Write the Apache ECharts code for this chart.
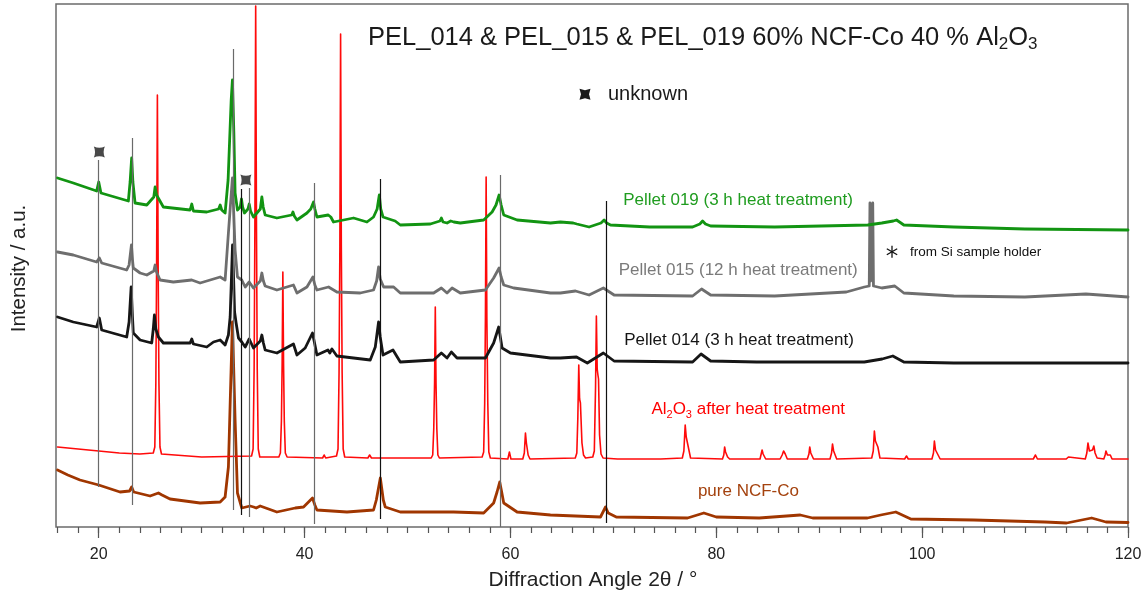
<!DOCTYPE html>
<html>
<head>
<meta charset="utf-8">
<title>XRD PEL_014 / PEL_015 / PEL_019</title>
<script src="https://cdn.jsdelivr.net/npm/echarts@6/dist/echarts.min.js"></script>
<style>
  html, body { margin: 0; padding: 0; background: #ffffff; }
  #chart { width: 1146px; height: 598px; }
</style>
</head>
<body>
<div id="chart"></div>
<script>
// ---- diffraction patterns: [2theta (deg), intensity (a.u., offset stacked)] ----
const pel019 = [
  [16.0,349],[17.53,344],[19.8,336],[20.0,345],[20.22,334],[22.88,326],[23.05,345],[23.2,369],[23.32,345],[23.53,324],
  [24.67,322],[25.35,330],[25.48,340],[25.62,332],[25.8,330],[26.28,320],[28.88,317],[29.04,323],[29.2,316],[30.5,315],
  [31.65,318],[31.8,322],[31.95,317],[32.28,314],[32.57,347],[32.87,427],[32.99,447],[33.13,394],[33.25,334],[33.48,317],
  [33.75,320],[33.87,328],[33.98,320],[34.16,314],[34.5,318],[34.62,323],[34.75,316],[35.03,310],[35.7,318],[35.85,330],
  [35.98,320],[36.17,312],[37.31,309],[38.75,312],[38.87,315],[39.0,311],[39.26,307],[40.23,314],[40.6,318],[40.87,325],
  [41.0,318],[41.2,310],[42.3,312],[42.43,314],[42.55,310],[42.81,305],[43.79,307],[44.76,309],[46.06,305],[46.7,310],
  [47.05,318],[47.26,332],[47.4,318],[47.62,310],[48.5,307],[48.65,309],[48.8,306],[49.3,302],[52.22,303],[53.15,306],
  [53.29,309],[53.45,305],[53.84,304],[54.2,306],[54.33,308],[54.5,305],[55.13,304],[57.4,307],[58.22,315],[58.6,322],
  [58.9,332],[59.1,322],[59.35,312],[60.65,307],[63.89,304],[64.86,305],[66.1,304],[66.25,306],[66.45,303],[67.64,300],
  [68.8,304],[69.1,307],[69.35,304],[69.72,302],[73.52,300],[77.7,300],[78.4,303],[78.67,306],[78.95,303],[79.45,301],
  [85.67,300],[94.72,302],[96.08,304],[97.2,306],[97.51,307],[97.8,305],[98.22,302],[103.08,300],[109.98,298],[120,297]
];

const pel015 = [
  [16.0,275],[17.53,272],[19.8,265],[20.06,269],[20.29,264],[22.72,257],[22.95,262],[23.18,282],[23.3,265],[23.36,259],
  [24.02,254],[24.67,252],[25.35,256],[25.48,262],[25.62,255],[25.96,247],[27.25,245],[29.04,247],[29.85,244],[31.8,250],
  [32.28,247],[32.6,294],[32.99,349],[33.25,277],[33.48,250],[33.9,247],[34.23,240],[34.62,245],[35.03,239],[35.7,246],
  [35.85,254],[36.0,246],[36.17,241],[37.31,237],[38.92,242],[39.26,234],[40.23,240],[40.81,250],[41.0,242],[41.2,237],
  [42.33,240],[43.14,235],[45.41,234],[46.7,237],[47.0,246],[47.19,260],[47.35,248],[47.68,240],[48.65,240],[49.3,234],
  [52.54,234],[53.29,239],[53.84,234],[54.33,239],[55.13,234],[57.57,237],[58.37,249],[58.9,259],[59.1,250],[59.35,242],
  [60.32,239],[63.89,234],[64.86,234],[66.32,236],[67.64,232],[69.03,239],[70.07,232],[77.7,231],[78.57,238],[79.45,232],
  [85.67,231],[92.64,235],[94.38,240],[94.86,241],[94.93,324],[95.0,246],[95.13,246],[95.2,324],[95.27,241],[96.08,239],
  [97.34,241],[98.22,234],[103.08,231],[109.98,230],[115.91,233],[120,230]
];

const pel014 = [
  [16.0,210],[17.53,205],[19.8,200],[20.06,209],[20.29,197],[22.72,190],[22.95,205],[23.15,240],[23.28,210],[23.36,194],
  [24.02,187],[25.15,184],[25.3,198],[25.41,212],[25.55,198],[25.8,190],[26.28,184],[28.88,184],[29.04,188],[29.2,183],
  [30.5,180],[31.15,185],[31.8,187],[32.28,182],[32.6,192],[32.77,210],[32.9,250],[33.0,282],[33.1,250],[33.2,215],
  [33.35,204],[33.58,189],[33.9,185],[34.23,180],[34.62,188],[35.03,179],[35.7,186],[35.85,192],[36.0,184],[36.17,177],
  [37.31,174],[38.92,183],[39.26,172],[40.06,179],[40.77,194],[40.95,185],[41.2,172],[42.27,177],[42.45,174],[42.66,178],
  [43.14,171],[44.76,169],[46.38,167],[46.87,180],[47.19,205],[47.35,190],[47.62,172],[48.59,177],[49.3,165],[52.54,167],
  [53.29,174],[53.84,169],[54.26,175],[54.81,169],[57.57,169],[58.37,184],[58.86,200],[59.05,188],[59.19,179],[60.0,174],
  [63.89,169],[64.86,169],[66.42,170],[67.47,164],[69.03,174],[70.07,166],[77.7,165],[78.52,173],[79.45,166],[83.92,165],
  [94.38,165],[96.12,168],[97.15,171],[98.22,165],[103.08,164],[115.91,164],[120,164]
];

const al2o3 = [
  [16,80],[18,78],[20,76],[22,74],[24,73],
  [25.3,74],[25.45,80],[25.55,144],[25.62,252],[25.7,432],[25.78,252],[25.85,144],[25.95,80],[26.1,73],
  [30,70],
  [34.85,71],[35.0,78],[35.1,159],[35.17,295],[35.25,521],[35.33,295],[35.4,159],[35.5,78],[35.65,70],
  [37.5,70],[37.65,74],[37.75,106],[37.82,162],[37.89,255],[37.96,162],[38.03,106],[38.13,74],[38.3,70],
  [41.75,69],[41.91,72],[42.05,69],
  [43.1,71],[43.25,78],[43.35,154],[43.43,281],[43.5,493],[43.57,281],[43.65,154],[43.75,78],[43.9,70],
  [46.15,69],[46.32,72],[46.5,69],
  [52.3,69],[52.45,72],[52.55,98],[52.63,144],[52.7,220],[52.77,144],[52.85,98],[52.95,72],[53.1,69],
  [57.25,70],[57.4,75],[57.5,124],[57.57,209],[57.64,350],[57.71,209],[57.8,124],[57.9,75],[58.05,69],
  [59.75,68],[59.9,75],[60.05,68],
  [61.2,68],[61.35,74],[61.46,94],[61.55,84],[61.62,82],[61.72,72],[61.9,68],
  [66.3,69],[66.45,74],[66.55,110],[66.64,162],[66.72,128],[66.8,124],[66.85,122],[66.95,84],[67.1,72],[67.3,69],
  [68.0,70],[68.15,76],[68.27,140],[68.35,211],[68.43,158],[68.5,152],[68.56,148],[68.66,92],[68.8,73],[69.0,69],
  [70.4,68],[70.53,70],[70.7,68],
  [74.3,68],[74.45,70],[74.6,68],
  [76.7,69],[76.85,76],[76.98,102],[77.08,90],[77.21,92],[77.32,78],[77.5,69],
  [80.6,68],[80.73,72],[80.81,80],[80.9,75],[81.0,74],[81.1,70],[81.3,68],
  [83.3,68],[83.41,69],[83.55,68],
  [84.25,68],[84.45,77],[84.55,73],[84.65,72],[84.8,68],
  [86.2,68],[86.4,72],[86.54,76],[86.7,73],[86.9,68],
  [88.85,68],[89.0,73],[89.08,80],[89.18,74],[89.28,73],[89.45,68],
  [91.05,68],[91.2,74],[91.29,83],[91.4,76],[91.5,75],[91.7,68],
  [95.1,69],[95.25,76],[95.36,96],[95.46,86],[95.58,88],[95.7,80],[95.9,69],
  [98.3,68],[98.48,71],[98.65,68],
  [100.95,68],[101.1,74],[101.19,86],[101.3,77],[101.43,79],[101.55,72],[101.75,68],
  [103.3,68],[103.45,70],[103.6,68],
  [110.8,68],[111.01,72],[111.2,68],
  [114.0,68],[114.21,70],[114.4,68],
  [115.85,68],[116.0,74],[116.11,84],[116.25,76],[116.4,76],[116.55,77],[116.68,81],[116.8,74],[117.0,69],
  [117.65,68],[117.78,72],[117.86,76],[118.0,72],[118.15,71],[118.28,72],[118.45,68],
  [120,68]
];

const ncfco = [
  [16.0,57],[17.0,52],[18.18,47],[20.0,42],[22.07,35],[23.0,36],[23.2,40],[23.4,35],[23.53,33],[24.99,31],[25.8,34],
  [25.96,36],[26.15,32],[26.93,28],[29.85,24],[31.8,25],[32.28,30],[32.6,60],[32.99,205],[33.25,107],[33.48,34],
  [33.9,19],[34.7,21],[34.88,23],[35.05,20],[35.3,19],[35.69,21],[37.31,15],[39.09,19],[39.9,20],[40.77,29],
  [41.0,22],[41.2,17],[44.12,15],[46.7,17],[46.97,27],[47.36,49],[47.65,27],[47.84,20],[49.3,15],[54.48,15],
  [57.4,14],[58.37,24],[58.7,35],[58.96,45],[59.15,35],[59.35,24],[60.65,15],[63.89,12],[68.75,10],[69.24,20],
  [69.5,14],[70.28,10],[77.21,9],[78.79,14],[80.0,10],[84.17,9],[88.16,12],[89.37,9],[94.69,9],[95.98,12],
  [97.44,15],[98.9,8],[105.01,7],[111.93,5],[114.04,4],[116.47,9],[117.86,5],[120,4.5]
];

// reference drop lines: position (2theta), lower and upper end (a.u.)
const refPos    = [19.98, 23.24, 33.06, 33.87, 34.62, 40.97, 47.38, 59.03, 69.27];
const refBottom = [40, 22, 17, 12, 10, 3, 8, 0, 4];
const refTop    = [367, 389, 478, 338, 339, 344, 348, 352, 326];
const refDark   = [false, false, false, true, false, false, true, false, true];

// reflections of the unknown phase
const unknownX = [20.06, 34.3];
const unknownY = [375, 347];

// axis ticks
const xMin = 15.85, xMax = 120;
const majorTicks = [20, 40, 60, 80, 100, 120];
const minorTicks = [];
for (let t = 16; t <= 120; t += 2) minorTicks.push(t);

const FONT = '"Liberation Sans", Arial, Helvetica, sans-serif';
const GRID = { left: 56, right: 18, top: 4, bottom: 71 };

const chart = echarts.init(document.getElementById('chart'), null, { renderer: 'canvas' });

function pattern(name, data, color, width, z) {
  return {
    type: 'line', name, data, xAxisIndex: 0, yAxisIndex: 0,
    showSymbol: false, symbol: 'none', silent: true, animation: false, z,
    lineStyle: { color, width, join: 'round', cap: 'round' }
  };
}

const starPath = 'path://M0 0Q5 2.2 10 0Q7.8 5 10 10Q5 7.8 0 10Q2.2 5 0 0Z';

const option = {
  backgroundColor: '#ffffff',
  animation: false,
  grid: [
    Object.assign({ show: true, borderColor: '#6b6b6b', borderWidth: 1.5, backgroundColor: 'transparent', containLabel: false }, GRID),
    Object.assign({ show: false, containLabel: false }, GRID)
  ],
  xAxis: [
    {
      type: 'value', gridIndex: 0, min: xMin, max: xMax,
      axisLine: { show: false }, splitLine: { show: false },
      axisTick: { show: true, customValues: majorTicks, length: 11, lineStyle: { color: '#555', width: 1.2 } },
      axisLabel: { show: true, customValues: majorTicks, margin: 20, fontSize: 16, color: '#222', fontFamily: FONT },
      name: 'Diffraction Angle 2θ / °', nameLocation: 'middle', nameGap: 43,
      nameTextStyle: { fontSize: 21, color: '#222', fontFamily: FONT, padding: [0, 0, 0, 2] }
    },
    {
      type: 'value', gridIndex: 1, min: xMin, max: xMax,
      axisLine: { show: false }, splitLine: { show: false }, axisLabel: { show: false },
      axisTick: { show: true, customValues: minorTicks, length: 6, lineStyle: { color: '#555', width: 1.2 } }
    }
  ],
  yAxis: [
    {
      type: 'value', gridIndex: 0, min: 0, max: 523,
      axisLine: { show: false }, axisTick: { show: false }, axisLabel: { show: false }, splitLine: { show: false }
    },
    {
      type: 'value', gridIndex: 1, min: 0, max: 523, show: false
    }
  ],
  series: [
    pattern('pure NCF-Co', ncfco, '#a03600', 2.8, 2),
    pattern('Al2O3 after heat treatment', al2o3, '#ff0a0a', 1.6, 3),
    pattern('Pellet 014', pel014, '#161616', 2.8, 4),
    pattern('Pellet 015', pel015, '#6e6e6e', 2.8, 5),
    pattern('Pellet 019', pel019, '#129412', 2.8, 6),
    {
      type: 'lines', coordinateSystem: 'cartesian2d', xAxisIndex: 0, yAxisIndex: 0,
      polyline: false, silent: true, animation: false, z: 8,
      lineStyle: { width: 1.2, opacity: 1 },
      data: refPos.map((x, i) => ({
        coords: [[x, refBottom[i]], [x, refTop[i]]],
        lineStyle: { color: refDark[i] ? '#111111' : '#6a6a6a', width: 1.2 }
      }))
    },
    {
      type: 'scatter', xAxisIndex: 0, yAxisIndex: 0, silent: true, animation: false, z: 9,
      symbol: starPath, symbolSize: 11,
      itemStyle: { color: '#1a1a1a' },
      data: unknownX.map((x, i) => [x, unknownY[i]])
    }
  ],
  graphic: [
    {
      type: 'text', x: 19.5, y: 268.5, rotation: Math.PI / 2, z: 20,
      style: { text: 'Intensity / a.u.', fontSize: 20.5, fontFamily: FONT, fill: '#222', align: 'center', verticalAlign: 'middle' }
    },
    {
      type: 'text', x: 368, y: 22, z: 20,
      style: {
        text: '{m|PEL_014 & PEL_015 & PEL_019 60% NCF-Co 40 % Al}{s|2}{m|O}{s|3}',
        rich: {
          m: { fontSize: 25.5, lineHeight: 31, fontFamily: FONT, fill: '#1a1a1a' },
          s: { fontSize: 17, lineHeight: 17, fontFamily: FONT, fill: '#1a1a1a', verticalAlign: 'bottom' }
        }
      }
    },
    {
      type: 'polygon', x: 585, y: 94.3, z: 20,
      shape: { points: [[-5.5,-5.5],[0,-4],[5.5,-5.5],[4,0],[5.5,5.5],[0,4],[-5.5,5.5],[-4,0]] },
      style: { fill: '#1a1a1a' }
    },
    {
      type: 'text', x: 608, y: 94.5, z: 20,
      style: { text: 'unknown', fontSize: 20, fontFamily: FONT, fill: '#1a1a1a', verticalAlign: 'middle', align: 'left' }
    },
    {
      type: 'group', x: 892, y: 251.7, z: 20,
      children: [
        { type: 'line', shape: { x1: 0, y1: -6, x2: 0, y2: 6 }, style: { stroke: '#111', lineWidth: 1.3 } },
        { type: 'line', shape: { x1: -5.2, y1: -3, x2: 5.2, y2: 3 }, style: { stroke: '#111', lineWidth: 1.3 } },
        { type: 'line', shape: { x1: -5.2, y1: 3, x2: 5.2, y2: -3 }, style: { stroke: '#111', lineWidth: 1.3 } }
      ]
    },
    {
      type: 'text', x: 910, y: 252, z: 20,
      style: { text: 'from Si sample holder', fontSize: 13.5, fontFamily: FONT, fill: '#111', verticalAlign: 'middle', align: 'left' }
    },
    {
      type: 'text', x: 738, y: 200.7, z: 20,
      style: { text: 'Pellet 019 (3 h heat treatment)', fontSize: 17, fontFamily: FONT, fill: '#1f9c1f', verticalAlign: 'middle', align: 'center' }
    },
    {
      type: 'text', x: 738.2, y: 270.7, z: 20,
      style: { text: 'Pellet 015 (12 h heat treatment)', fontSize: 17, fontFamily: FONT, fill: '#7a7a7a', verticalAlign: 'middle', align: 'center' }
    },
    {
      type: 'text', x: 739, y: 340.4, z: 20,
      style: { text: 'Pellet 014 (3 h heat treatment)', fontSize: 17, fontFamily: FONT, fill: '#141414', verticalAlign: 'middle', align: 'center' }
    },
    {
      type: 'text', x: 651.4, y: 409, z: 20,
      style: {
        text: '{m|Al}{s|2}{m|O}{s|3}{m| after heat treatment}',
        verticalAlign: 'middle', align: 'left',
        rich: {
          m: { fontSize: 17, lineHeight: 22, fontFamily: FONT, fill: '#ff0000' },
          s: { fontSize: 11, lineHeight: 12, fontFamily: FONT, fill: '#ff0000', verticalAlign: 'bottom' }
        }
      }
    },
    {
      type: 'text', x: 697.9, y: 491.4, z: 20,
      style: { text: 'pure NCF-Co', fontSize: 17, fontFamily: FONT, fill: '#a4420e', verticalAlign: 'middle', align: 'left' }
    }
  ]
};

chart.setOption(option);
</script>
</body>
</html>
